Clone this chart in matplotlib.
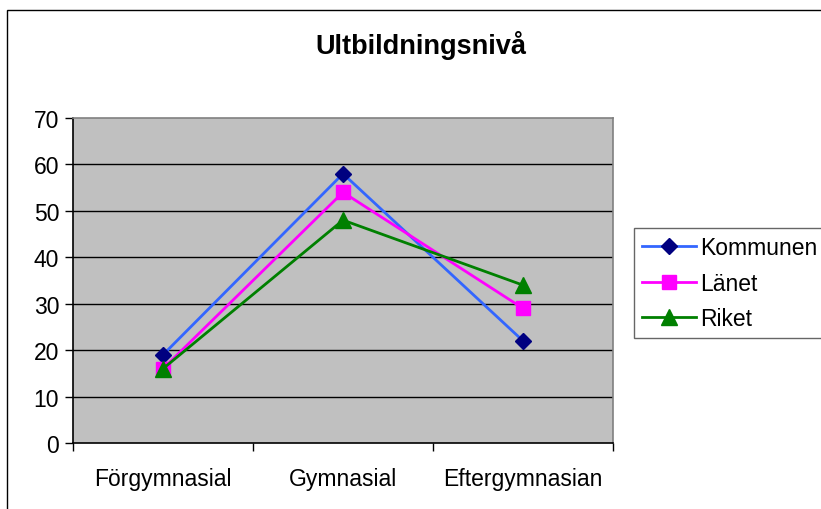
import matplotlib
matplotlib.use("Agg")
import matplotlib.pyplot as plt
from matplotlib.patches import Rectangle

plt.rcParams['font.family'] = ['Liberation Sans', 'DejaVu Sans']

# data
categories = ['Förgymnasial', 'Gymnasial', 'Eftergymnasian']
kommunen = [19, 58, 22]
lanet = [16, 54, 29]
riket = [16, 48, 34]

fig = plt.figure(figsize=(8.21, 5.10), dpi=100)
ax = fig.add_axes([73 / 821, 1 - 444 / 510, 540 / 821, 325 / 510])
ax.set_facecolor('#C0C0C0')

x = range(len(categories))
ax.plot(x, kommunen, color='#3366FF', lw=2, marker='D', ms=8.2,
        mfc='#000080', mec='#000080', label='Kommunen', zorder=3)
ax.plot(x, lanet, color='#FF00FF', lw=2, marker='s', ms=10.5,
        mfc='#FF00FF', mec='#FF00FF', label='Länet', zorder=3)
ax.plot(x, riket, color='#008000', lw=2, marker='^', ms=11,
        mfc='#008000', mec='#008000', label='Riket', zorder=3)

ax.set_xlim(-0.5, len(categories) - 0.5)
ax.set_ylim(0, 70)
ax.set_yticks(range(0, 71, 10))
for v in range(10, 70, 10):
    ax.axhline(v, color='black', lw=1, zorder=1)

ax.set_xticks(list(x))
ax.set_xticklabels(categories)
ax.set_xticks([i - 0.5 for i in range(len(categories) + 1)], minor=True)
ax.tick_params(axis='x', which='major', length=0, pad=17, labelsize=16.5)
ax.tick_params(axis='x', which='minor', length=6, width=1, direction='out')
ax.tick_params(axis='y', length=6, width=1, direction='out', pad=4, labelsize=16.5)

ax.spines['left'].set_color('black')
ax.spines['bottom'].set_color('black')
ax.spines['top'].set_color('#808080')
ax.spines['right'].set_color('#808080')
for s in ax.spines.values():
    s.set_linewidth(1.2)

fig.text(421 / 821, 1 - 45 / 510, 'Ultbildningsnivå', ha='center', va='center',
         fontsize=19.5, fontweight='bold')

leg = fig.legend(loc='upper left', bbox_to_anchor=(634 / 821, 1 - 229 / 510),
                 fontsize=16.5, frameon=True, fancybox=False, handlelength=2.35,
                 handletextpad=0.2, borderpad=0.35, labelspacing=0.55,
                 borderaxespad=0)
leg.get_frame().set_edgecolor('#404040')
leg.get_frame().set_linewidth(1)

fig.patches.append(Rectangle((7 / 821, -0.1), 2, 1 - 11 / 510 + 0.1,
                             transform=fig.transFigure, fill=False,
                             edgecolor='black', lw=1))

fig.savefig('out.png', dpi=100)
